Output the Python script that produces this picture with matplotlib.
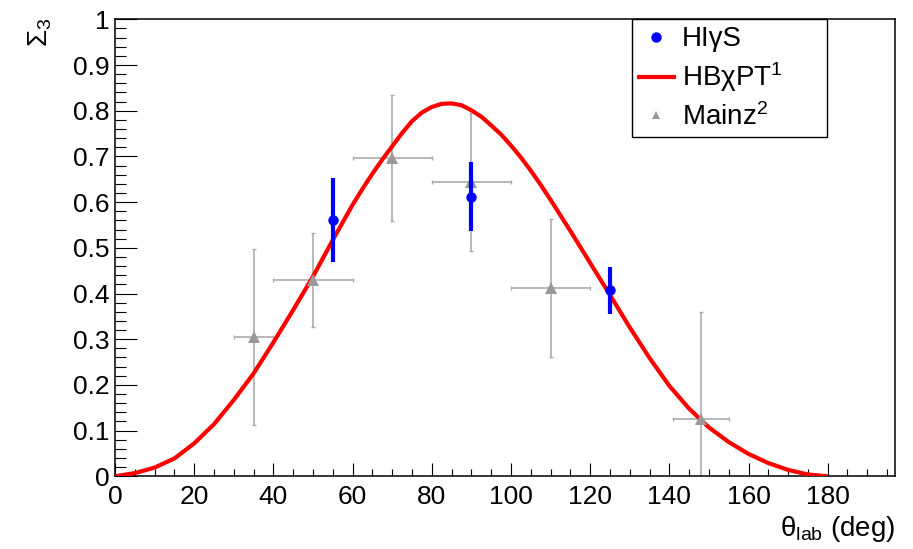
import matplotlib
matplotlib.use("Agg")
import matplotlib.pyplot as plt
from matplotlib.ticker import MultipleLocator, FuncFormatter
from matplotlib.lines import Line2D

plt.rcParams['font.family'] = ['Liberation Sans', 'DejaVu Sans']
plt.rcParams['mathtext.fontset'] = 'custom'
plt.rcParams['mathtext.rm'] = 'Liberation Sans'
plt.rcParams['mathtext.it'] = 'Liberation Sans:italic'
plt.rcParams['mathtext.bf'] = 'Liberation Sans:bold'

# HIgS data
higs_theta = [55, 90, 125]
higs_sigma = [0.561, 0.612, 0.407]
higs_err = [0.092, 0.075, 0.051]

# Mainz data
mainz_theta = [35, 50, 70, 90, 110, 148]
mainz_sigma = [0.305, 0.430, 0.697, 0.643, 0.412, 0.126]
mainz_yerr = [0.193, 0.103, 0.138, 0.151, 0.150, 0.234]
mainz_xerr = [5, 10, 10, 10, 10, 7]

# HBChPT curve
curve_theta = [0, 5, 10, 15, 20, 25, 30, 35, 40, 45, 50, 55, 60, 62.5, 65,
               67.5, 70, 72.5, 75, 77.5, 80, 82.5, 85, 87.5, 90, 92.5, 95,
               97.5, 100, 102.5, 105, 107.5, 110, 115, 120, 125, 130, 135,
               140, 145, 150, 155, 160, 165, 170, 175, 180]
curve_sigma = [0.0, 0.007, 0.019, 0.039, 0.072, 0.114, 0.167, 0.225, 0.293,
               0.364, 0.437, 0.517, 0.594, 0.629, 0.662, 0.693, 0.722, 0.751,
               0.777, 0.796, 0.808, 0.815, 0.816, 0.812, 0.801, 0.787, 0.768,
               0.748, 0.724, 0.698, 0.669, 0.638, 0.605, 0.537, 0.467, 0.397,
               0.326, 0.259, 0.198, 0.148, 0.107, 0.075, 0.049, 0.029, 0.014,
               0.004, 0.0]

fig = plt.figure(figsize=(9.13, 5.49), dpi=100)
ax = fig.add_axes([115 / 913, 1 - 476.3 / 549, 780 / 913, 457 / 549])

grey = '#ababab'
ax.errorbar(mainz_theta, mainz_sigma, yerr=mainz_yerr, xerr=mainz_xerr,
            fmt='none', ecolor=grey, elinewidth=1.2, capsize=1.5,
            capthick=1.0, zorder=2, clip_on=True)
ax.plot(curve_theta, curve_sigma, color='#ff0000', lw=3.0, zorder=3,
        solid_capstyle='butt', solid_joinstyle='round')
ax.plot(mainz_theta, mainz_sigma, linestyle='none', marker='^',
        color='#999999', markersize=9, markeredgewidth=0, zorder=4)
ax.errorbar(higs_theta, higs_sigma, yerr=higs_err, fmt='o', color='#0000ff',
            ecolor='#0000ff', elinewidth=3.0, capsize=0, markersize=7.5,
            markeredgewidth=0, zorder=5)

ax.set_xlim(0, 197)
ax.set_ylim(0, 1)

ax.xaxis.set_major_locator(MultipleLocator(20))
ax.xaxis.set_minor_locator(MultipleLocator(5))
ax.yaxis.set_major_locator(MultipleLocator(0.1))
ax.yaxis.set_minor_locator(MultipleLocator(0.02))
ax.yaxis.set_major_formatter(FuncFormatter(lambda v, p: '%g' % round(v, 2)))
ax.xaxis.set_major_formatter(FuncFormatter(lambda v, p: '%g' % round(v, 2)))

ax.tick_params(axis='x', which='major', direction='in', length=9.5,
               width=0.8, labelsize=19, pad=6, top=False)
ax.tick_params(axis='x', which='minor', direction='in', length=5,
               width=0.8, top=False)
ax.tick_params(axis='y', which='major', direction='in', length=16,
               width=0.8, labelsize=19, pad=4, right=False)
ax.tick_params(axis='y', which='minor', direction='in', length=8,
               width=0.8, right=False)
for s in ax.spines.values():
    s.set_linewidth(1.1)

ax.set_xlabel('θ$_{\\rm lab}$ (deg)', fontsize=20)
ax.xaxis.label.set_ha('right')
ax.xaxis.label.set_va('top')
ax.xaxis.set_label_coords(1.0, -0.082)

ax.set_ylabel('Σ$_{3}$', fontsize=20)
yl = ax.yaxis.label
yl.set_rotation_mode('default')
yl.set_ha('center')
yl.set_va('top')
ax.yaxis.set_label_coords(-0.096, 1.003)

handles = [
    Line2D([], [], linestyle='none', marker='o', color='#0000ff',
           markersize=7.5, markeredgewidth=0),
    Line2D([], [], color='#ff0000', lw=3.0),
    Line2D([], [], linestyle='none', marker='^', color='#999999',
           markersize=6, markeredgewidth=0),
]
labels = ['HIγS', 'HBχPT$^{1}$', 'Mainz$^{2}$']
leg = ax.legend(handles, labels, loc='upper left',
                bbox_to_anchor=(0.663, 1.0, 0.25, 0), mode='expand',
                fontsize=20, frameon=True, fancybox=False, borderaxespad=0,
                borderpad=0.25, labelspacing=0.3, handlelength=1.25,
                handletextpad=0.3, edgecolor='black', framealpha=1)
leg.get_frame().set_linewidth(1.0)

fig.savefig('out.png', dpi=100)
